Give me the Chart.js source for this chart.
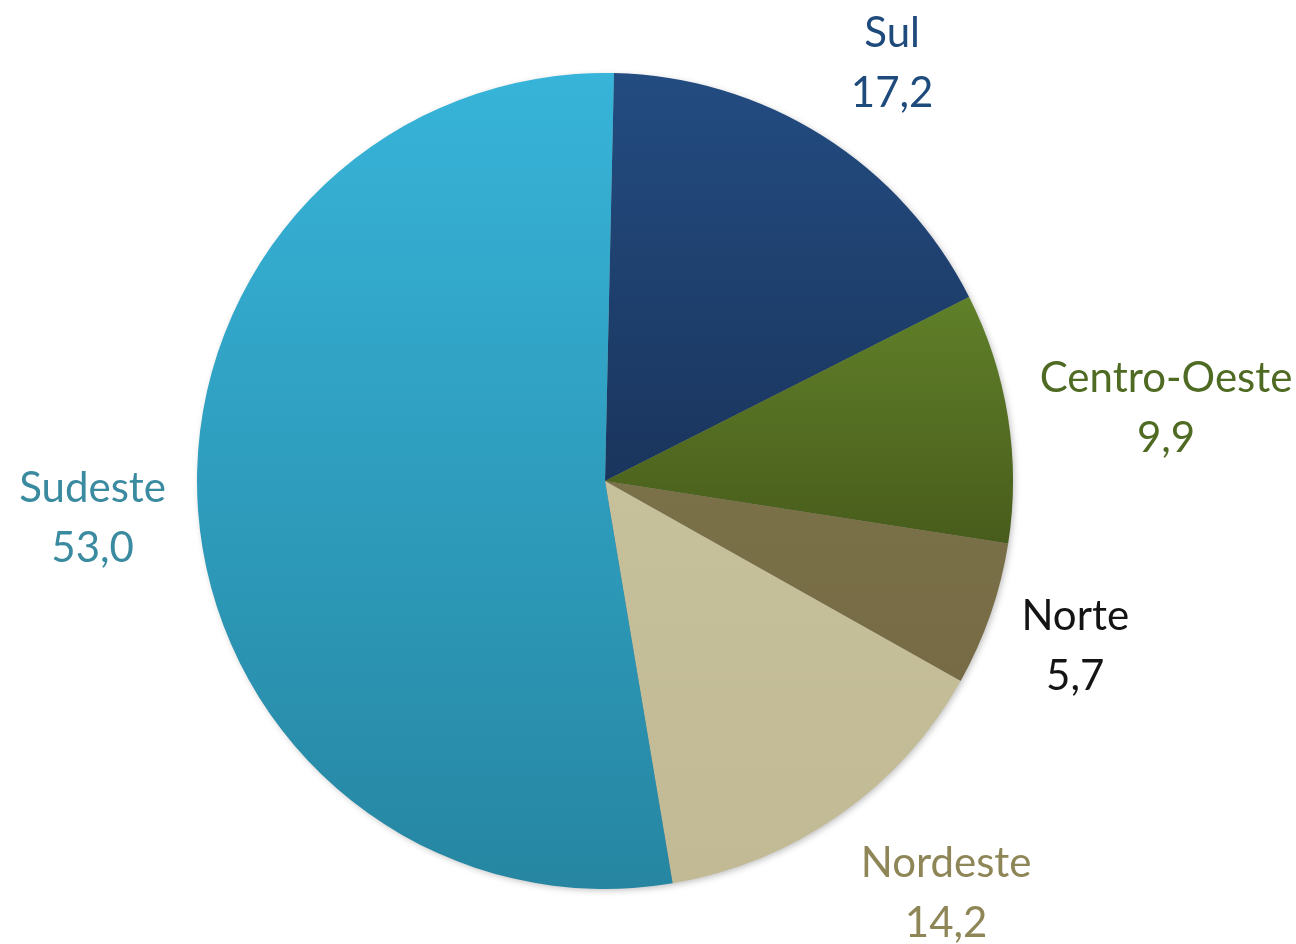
<!DOCTYPE html>
<html>
<head>
<meta charset="utf-8">
<script src="https://cdn.jsdelivr.net/npm/chart.js@4/dist/chart.umd.min.js"></script>
<style>
  html, body { margin: 0; padding: 0; background: #fff; }
  #box { width: 1296px; height: 944px; }
</style>
</head>
<body>
<div id="box"><canvas id="pie" width="1296" height="944"></canvas></div>
<script>
// data
const regions = ['Sul', 'Centro-Oeste', 'Norte', 'Nordeste', 'Sudeste'];
const shares = [17.2, 9.9, 5.7, 14.2, 53.0];

// slice colours (top / bottom of gradient) and label colours
const topColors = ['#234c81', '#608029', '#7b7149', '#c6c09b', '#37b4d9'];
const bottomColors = ['#1a355d', '#485c1b', '#766b44', '#c1ba94', '#2686a2'];
const labelColors = ['#1f4a7c', '#4f6a22', '#141414', '#8f8658', '#3a8aa0'];

// label placement: angle nudge (deg) from slice middle, distance as share of radius
const labelNudge = [2.2, 1.5, 0.2, -4.6, 0.1];
const labelDist = [1.245, 1.387, 1.221, 1.309, 1.259];

const FONT = '42px Lato, "Open Sans", sans-serif';

const fmt = (v) => v.toFixed(1).replace('.', ',');

// vertical gradient over each slice's own bounding box
const sliceBox = (arc) => {
  const { x, y, startAngle, endAngle, outerRadius } = arc;
  let ys = [y, y + outerRadius * Math.sin(startAngle), y + outerRadius * Math.sin(endAngle)];
  const hits = (a) => {
    for (let k = -2; k <= 3; k++) {
      const t = a + k * 2 * Math.PI;
      if (t >= startAngle && t <= endAngle) return true;
    }
    return false;
  };
  if (hits(-Math.PI / 2)) ys.push(y - outerRadius);
  if (hits(Math.PI / 2)) ys.push(y + outerRadius);
  return { top: Math.min(...ys), bottom: Math.max(...ys) };
};

const gradientPlugin = {
  id: 'sliceGradient',
  beforeDatasetsDraw(chart) {
    const { ctx } = chart;
    const meta = chart.getDatasetMeta(0);
    meta.data.forEach((arc, i) => {
      const { top, bottom } = sliceBox(arc);
      const g = ctx.createLinearGradient(0, top, 0, bottom);
      g.addColorStop(0, topColors[i]);
      g.addColorStop(1, bottomColors[i]);
      arc.options = Object.assign({}, arc.options, { backgroundColor: g });
    });
    // soft shadow under the whole pie
    const first = meta.data[0];
    if (first) {
      ctx.save();
      ctx.shadowColor = 'rgba(0,0,0,0.28)';
      ctx.shadowBlur = 7;
      ctx.shadowOffsetX = 2;
      ctx.shadowOffsetY = 2;
      ctx.fillStyle = '#888';
      ctx.beginPath();
      ctx.arc(first.x, first.y, first.outerRadius - 1, 0, Math.PI * 2);
      ctx.fill();
      ctx.restore();
    }
  }
};

const labelPlugin = {
  id: 'outsideLabels',
  afterDatasetsDraw(chart) {
    const { ctx } = chart;
    const meta = chart.getDatasetMeta(0);
    ctx.save();
    ctx.font = FONT;
    ctx.textAlign = 'center';
    ctx.textBaseline = 'alphabetic';
    meta.data.forEach((arc, i) => {
      const mid = (arc.startAngle + arc.endAngle) / 2 + labelNudge[i] * Math.PI / 180;
      const d = arc.outerRadius * labelDist[i];
      const lx = arc.x + d * Math.cos(mid);
      const ly = arc.y + d * Math.sin(mid);
      ctx.fillStyle = labelColors[i];
      ctx.fillText(regions[i], lx, ly - 15);
      ctx.fillText(fmt(shares[i]), lx, ly + 45);
    });
    ctx.restore();
  }
};

new Chart(document.getElementById('pie'), {
  type: 'pie',
  data: {
    labels: regions,
    datasets: [{
      data: shares,
      backgroundColor: topColors,
      borderWidth: 0
    }]
  },
  options: {
    responsive: false,
    animation: false,
    rotation: 1.26,
    layout: { padding: { top: 73, bottom: 55, left: 197, right: 283 } },
    plugins: {
      legend: { display: false },
      tooltip: { enabled: false }
    }
  },
  plugins: [gradientPlugin, labelPlugin]
});
</script>
</body>
</html>
